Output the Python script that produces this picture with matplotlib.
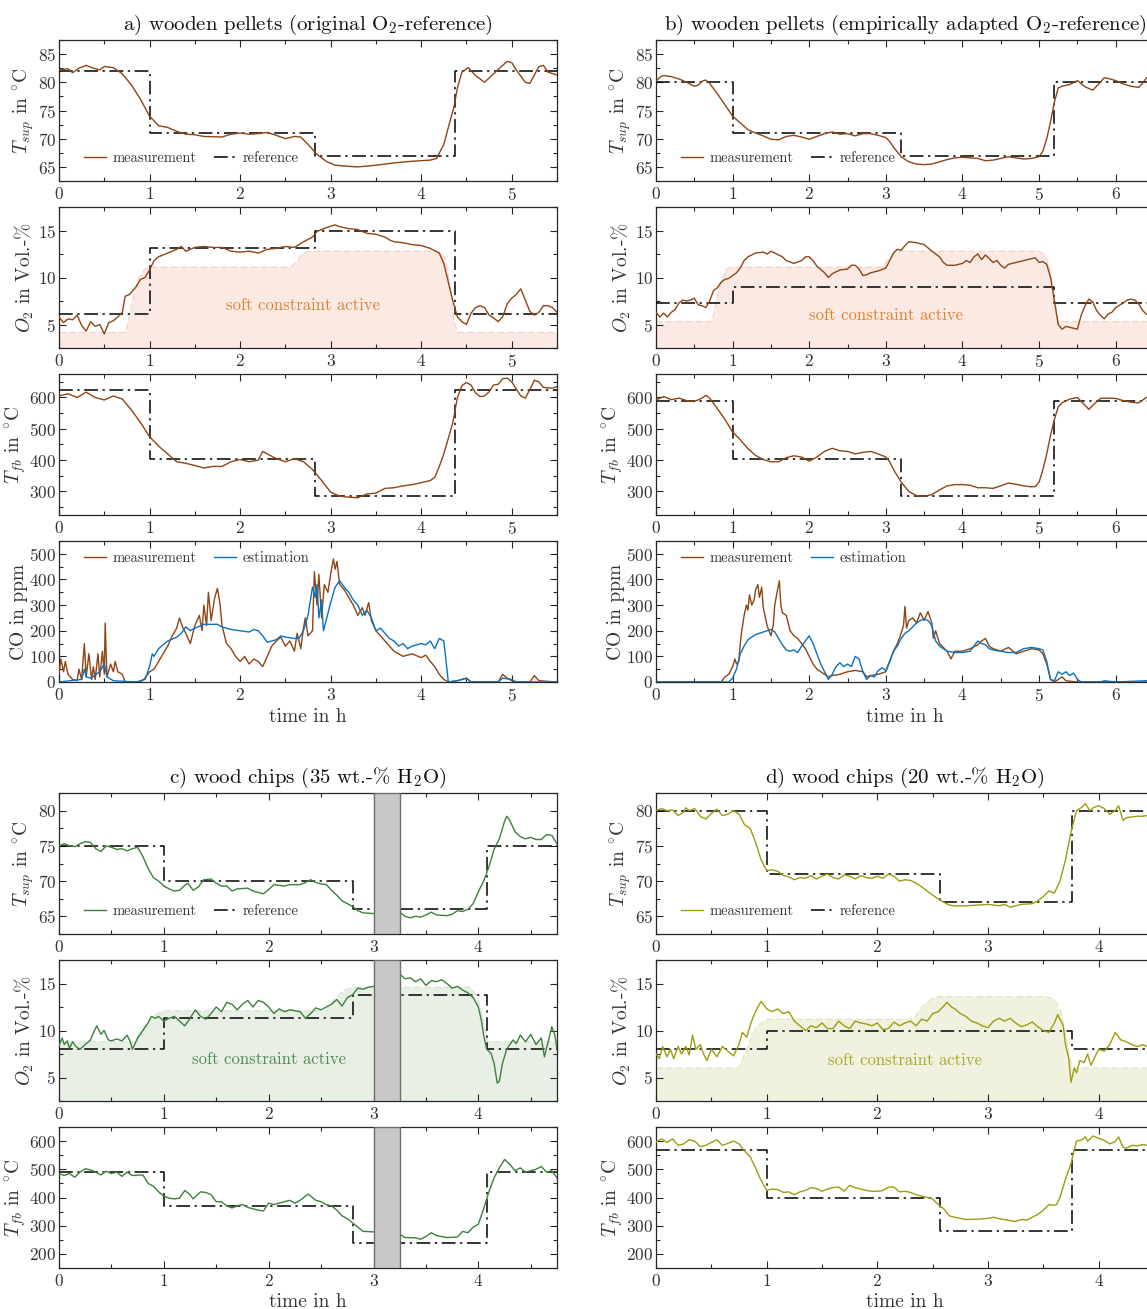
import numpy as np
import matplotlib.pyplot as plt
from matplotlib.ticker import MultipleLocator

plt.rcParams['font.family'] = ['cmr10', 'DejaVu Serif']
plt.rcParams['mathtext.fontset'] = 'cm'
plt.rcParams['axes.formatter.use_mathtext'] = True

# ----------------------------- data -----------------------------
# reference step profiles: switching times and levels
a_edges = [0, 1.0, 2.83, 4.37, 5.5]
a_ref_tsup = [82, 71, 67, 82]
a_ref_o2 = [6.1, 13.1, 14.9, 6.1]
a_ref_tfb = [623, 403, 287, 623]

b_edges = [0, 1.0, 3.2, 5.2, 6.5]
b_ref_tsup = [80, 71, 67, 80]
b_ref_o2 = [7.3, 9.0, 9.0, 7.3]
b_ref_tfb = [590, 403, 287, 590]

c_edges = [0, 1.0, 2.8, 4.08, 4.75]
c_ref_tsup = [75, 70, 66, 75]
c_ref_o2 = [8.0, 11.3, 13.8, 8.0]
c_ref_tfb = [490, 370, 240, 490]

d_edges = [0, 1.0, 2.57, 3.76, 4.5]
d_ref_tsup = [80, 71, 67, 80]
d_ref_o2 = [8.0, 10.0, 10.0, 8.0]
d_ref_tfb = [570, 400, 282, 570]

# soft constraint (upper edge of shaded area)
a_soft = [(0, 4.15), (0.74, 4.15), (0.8, 7.0), (0.87, 9.8), (0.95, 10.9), (1.02, 11.1), (2.56, 11.1),
          (2.62, 11.6), (2.68, 12.5), (2.76, 12.8), (4.2, 12.8), (4.27, 12.0), (4.32, 9.0), (4.36, 5.5),
          (4.4, 4.15), (5.5, 4.15)]
b_soft = [(0, 5.3), (0.73, 5.3), (0.78, 7.2), (0.85, 9.6), (0.92, 10.9), (1.0, 11.1), (2.95, 11.1),
          (3.02, 11.8), (3.1, 12.6), (3.2, 12.8), (5.0, 12.8), (5.08, 12.4), (5.14, 11.0), (5.2, 8.0),
          (5.25, 5.3), (6.5, 5.3)]
c_soft = [(0, 8.8), (0.72, 8.8), (0.8, 10.3), (0.9, 11.6), (1.0, 12.1), (2.55, 12.1), (2.62, 13.2),
          (2.72, 14.3), (2.82, 14.6), (3.92, 14.6), (3.98, 13.8), (4.04, 11.5), (4.09, 8.8), (4.75, 8.8)]
d_soft = [(0, 6.0), (0.75, 6.0), (0.82, 8.0), (0.9, 10.3), (1.0, 11.2), (2.33, 11.2), (2.4, 12.5),
          (2.48, 13.3), (2.56, 13.6), (3.52, 13.6), (3.6, 13.3), (3.66, 12.0), (3.71, 9.0),
          (3.76, 6.0), (4.5, 6.0)]

# measurements
a_tsup = [(0, 82.2), (0.1, 82.4), (0.15, 81.7), (0.22, 82.5), (0.3, 83.0), (0.38, 82.5), (0.45, 82.2),
          (0.5, 82.8), (0.6, 82.6), (0.7, 81.5), (0.8, 79.5), (0.9, 77.0), (1.0, 74.0), (1.1, 72.3),
          (1.2, 72.0), (1.3, 71.3), (1.4, 70.8), (1.5, 70.7), (1.6, 70.4), (1.8, 70.3), (1.9, 70.8),
          (2.0, 71.0), (2.1, 70.8), (2.2, 70.9), (2.3, 71.1), (2.4, 70.6), (2.5, 70.0), (2.6, 70.4),
          (2.67, 70.3), (2.75, 69.0), (2.85, 67.2), (2.95, 66.0), (3.05, 65.3), (3.2, 65.1), (3.3, 65.0),
          (3.5, 65.3), (3.7, 65.7), (3.9, 66.0), (4.1, 66.2), (4.17, 66.5), (4.25, 69.0), (4.3, 72.0),
          (4.36, 75.5), (4.4, 79.0), (4.45, 81.8), (4.52, 82.6), (4.6, 81.2), (4.7, 80.0), (4.8, 81.5),
          (4.9, 83.0), (4.95, 83.7), (5.0, 83.5), (5.05, 82.2), (5.15, 80.0), (5.2, 79.8), (5.3, 82.8),
          (5.35, 83.0), (5.4, 81.8), (5.5, 81.3)]
a_o2 = [(0, 5.8), (0.05, 5.2), (0.1, 5.6), (0.15, 5.5), (0.2, 6.0), (0.25, 4.9), (0.3, 4.3), (0.35, 5.3),
        (0.4, 4.8), (0.45, 5.0), (0.5, 4.0), (0.55, 5.2), (0.6, 5.4), (0.65, 5.8), (0.7, 6.3), (0.73, 8.0),
        (0.78, 8.2), (0.85, 9.0), (0.9, 9.8), (0.95, 10.0), (1.0, 10.8), (1.05, 11.8), (1.1, 12.2),
        (1.2, 12.6), (1.3, 13.0), (1.35, 13.3), (1.4, 12.8), (1.5, 13.2), (1.6, 13.3), (1.7, 13.2),
        (1.8, 13.2), (1.9, 12.8), (2.0, 12.7), (2.1, 12.8), (2.2, 12.6), (2.3, 13.0), (2.4, 13.1),
        (2.5, 13.3), (2.6, 13.2), (2.7, 13.8), (2.8, 14.3), (2.85, 14.9), (2.95, 15.3), (3.05, 15.6),
        (3.1, 15.4), (3.2, 15.2), (3.3, 15.1), (3.4, 14.7), (3.5, 14.6), (3.6, 14.3), (3.65, 14.0),
        (3.7, 13.8), (3.8, 13.7), (3.9, 13.5), (4.0, 13.4), (4.1, 13.1), (4.2, 12.6), (4.25, 11.5),
        (4.3, 9.5), (4.35, 7.5), (4.4, 5.8), (4.45, 5.3), (4.5, 5.0), (4.55, 6.2), (4.6, 6.8), (4.65, 7.0),
        (4.7, 6.8), (4.75, 6.0), (4.8, 5.7), (4.85, 5.3), (4.9, 5.8), (4.95, 7.2), (5.0, 7.8), (5.05, 8.2),
        (5.1, 8.8), (5.15, 7.6), (5.2, 6.4), (5.25, 6.0), (5.3, 6.3), (5.35, 7.0), (5.4, 7.0), (5.45, 6.8),
        (5.5, 6.3)]
a_tfb = [(0, 605), (0.1, 612), (0.2, 600), (0.3, 617), (0.4, 600), (0.5, 592), (0.6, 605), (0.7, 595),
         (0.8, 560), (0.9, 520), (1.0, 475), (1.1, 445), (1.2, 420), (1.3, 395), (1.4, 390), (1.5, 383),
         (1.6, 375), (1.7, 380), (1.8, 380), (1.9, 395), (2.0, 402), (2.1, 395), (2.2, 400), (2.25, 428),
         (2.3, 420), (2.4, 405), (2.5, 395), (2.6, 405), (2.7, 395), (2.8, 370), (2.9, 335), (3.0, 298),
         (3.1, 285), (3.2, 282), (3.3, 280), (3.4, 292), (3.5, 295), (3.6, 310), (3.7, 312), (3.8, 318),
         (3.9, 322), (4.0, 328), (4.1, 335), (4.15, 345), (4.2, 380), (4.25, 420), (4.3, 470), (4.35, 520),
         (4.4, 600), (4.45, 638), (4.5, 648), (4.55, 640), (4.6, 615), (4.65, 603), (4.7, 605), (4.75, 618),
         (4.8, 640), (4.85, 642), (4.9, 660), (4.95, 662), (5.0, 650), (5.1, 605), (5.15, 598), (5.2, 625),
         (5.25, 655), (5.3, 650), (5.35, 632), (5.45, 630), (5.5, 635)]
a_co = [(0, 30), (0.02, 90), (0.05, 40), (0.07, 80), (0.1, 30), (0.15, 10), (0.2, 5), (0.22, 50), (0.25, 10),
        (0.28, 150), (0.3, 20), (0.33, 110), (0.36, 10), (0.38, 60), (0.4, 10), (0.43, 110), (0.45, 20),
        (0.48, 120), (0.5, 30), (0.51, 230), (0.53, 20), (0.57, 70), (0.6, 40), (0.62, 80), (0.65, 40),
        (0.7, 30), (0.73, 0), (0.9, 0), (0.95, 15), (1.0, 40), (1.05, 50), (1.1, 80), (1.15, 110),
        (1.2, 140), (1.25, 180), (1.3, 210), (1.33, 250), (1.37, 210), (1.4, 190), (1.45, 150), (1.5, 220),
        (1.55, 260), (1.58, 200), (1.6, 300), (1.63, 220), (1.65, 350), (1.68, 240), (1.72, 330),
        (1.75, 365), (1.78, 300), (1.8, 220), (1.85, 150), (1.9, 130), (1.95, 100), (2.0, 80), (2.05, 100),
        (2.1, 70), (2.15, 90), (2.2, 80), (2.25, 60), (2.3, 100), (2.35, 140), (2.4, 160), (2.45, 175),
        (2.5, 140), (2.55, 160), (2.6, 120), (2.63, 190), (2.67, 130), (2.7, 210), (2.72, 250), (2.75, 180),
        (2.8, 200), (2.82, 430), (2.85, 300), (2.87, 420), (2.9, 250), (2.93, 380), (2.97, 350), (3.0, 420),
        (3.03, 480), (3.05, 440), (3.07, 470), (3.1, 380), (3.15, 360), (3.2, 330), (3.25, 300), (3.3, 260),
        (3.35, 290), (3.38, 260), (3.42, 310), (3.45, 240), (3.5, 200), (3.55, 180), (3.6, 160), (3.65, 140),
        (3.7, 120), (3.8, 100), (3.9, 110), (4.0, 95), (4.05, 105), (4.1, 80), (4.15, 60), (4.2, 30),
        (4.25, 10), (4.3, 0), (4.4, 5), (4.5, 15), (4.55, 0), (4.85, 0), (4.9, 30), (4.95, 15), (5.0, 5),
        (5.05, 0), (5.2, 0), (5.25, 25), (5.3, 5), (5.5, 0)]
a_co_est = [(0, 0), (0.25, 10), (0.28, 50), (0.3, 20), (0.35, 15), (0.45, 40), (0.5, 70), (0.53, 20),
            (0.6, 5), (0.85, 0), (0.95, 10), (1.0, 60), (1.03, 110), (1.05, 100), (1.1, 130), (1.2, 160),
            (1.3, 175), (1.35, 190), (1.4, 215), (1.45, 200), (1.5, 210), (1.6, 225), (1.75, 225),
            (1.8, 215), (1.9, 205), (2.0, 200), (2.1, 195), (2.15, 205), (2.2, 200), (2.25, 180), (2.3, 155),
            (2.4, 165), (2.45, 180), (2.5, 175), (2.6, 170), (2.65, 170), (2.7, 200), (2.75, 260),
            (2.8, 370), (2.83, 330), (2.85, 380), (2.87, 250), (2.9, 320), (2.92, 200), (2.95, 240),
            (3.0, 310), (3.05, 370), (3.1, 395), (3.15, 370), (3.2, 350), (3.25, 320), (3.3, 300),
            (3.35, 260), (3.4, 280), (3.45, 250), (3.5, 200), (3.55, 210), (3.6, 190), (3.65, 170),
            (3.7, 160), (3.75, 140), (3.8, 150), (3.85, 130), (3.9, 140), (4.0, 150), (4.05, 145),
            (4.1, 160), (4.15, 130), (4.2, 170), (4.25, 160), (4.3, 0), (4.4, 5), (4.5, 15), (4.55, 0),
            (4.85, 0), (4.9, 15), (5.0, 10), (5.05, 0), (5.5, 0)]

b_tsup = [(0, 80.2), (0.05, 80.9), (0.1, 81.2), (0.2, 81.0), (0.3, 80.6), (0.4, 80.0), (0.5, 79.3),
          (0.55, 79.5), (0.6, 80.2), (0.65, 80.4), (0.7, 79.8), (0.8, 78.0), (0.9, 76.0), (1.0, 74.0),
          (1.1, 72.8), (1.2, 71.6), (1.3, 71.0), (1.4, 70.5), (1.5, 69.9), (1.6, 69.8), (1.7, 70.4),
          (1.8, 70.6), (1.9, 70.3), (2.0, 69.9), (2.1, 70.4), (2.2, 70.9), (2.3, 71.2), (2.4, 70.8),
          (2.5, 70.9), (2.6, 70.5), (2.7, 70.9), (2.8, 70.9), (2.9, 70.6), (3.0, 70.2), (3.05, 69.5),
          (3.1, 68.5), (3.2, 66.8), (3.3, 65.9), (3.4, 65.5), (3.5, 65.4), (3.6, 65.5), (3.7, 65.9),
          (3.8, 66.3), (3.9, 66.6), (4.0, 66.7), (4.1, 66.6), (4.2, 66.5), (4.3, 66.1), (4.4, 66.2),
          (4.5, 66.5), (4.6, 66.8), (4.7, 66.6), (4.8, 66.4), (4.9, 66.5), (5.0, 66.8), (5.05, 67.8),
          (5.1, 70.0), (5.15, 73.0), (5.2, 76.5), (5.25, 79.0), (5.3, 79.3), (5.4, 79.6), (5.5, 80.3),
          (5.6, 79.2), (5.7, 78.6), (5.8, 80.0), (5.85, 80.8), (5.9, 80.7), (6.0, 80.3), (6.1, 79.7),
          (6.2, 79.3), (6.3, 79.1), (6.35, 79.8), (6.4, 80.8), (6.5, 81.0)]
b_o2 = [(0, 6.3), (0.05, 5.8), (0.1, 6.2), (0.15, 5.8), (0.2, 6.3), (0.25, 6.6), (0.3, 7.3), (0.35, 7.6),
        (0.4, 7.5), (0.45, 7.6), (0.5, 7.8), (0.55, 7.1), (0.6, 7.0), (0.65, 6.8), (0.7, 7.5), (0.75, 8.6),
        (0.8, 8.9), (0.85, 9.5), (0.9, 9.8), (0.95, 9.9), (1.0, 10.2), (1.05, 10.5), (1.1, 11.0),
        (1.15, 11.8), (1.2, 12.2), (1.3, 12.6), (1.4, 12.7), (1.45, 12.5), (1.5, 12.8), (1.6, 12.4),
        (1.65, 12.2), (1.7, 11.8), (1.8, 11.5), (1.9, 11.8), (1.95, 12.2), (2.0, 12.2), (2.05, 11.8),
        (2.1, 11.2), (2.2, 10.5), (2.25, 10.0), (2.3, 10.4), (2.4, 10.8), (2.5, 10.9), (2.55, 11.3),
        (2.6, 11.3), (2.65, 10.9), (2.7, 10.2), (2.75, 10.3), (2.8, 10.5), (2.9, 10.7), (3.0, 11.0),
        (3.05, 11.8), (3.1, 12.6), (3.15, 13.0), (3.2, 12.9), (3.25, 13.4), (3.3, 13.8), (3.4, 13.7),
        (3.5, 13.5), (3.6, 12.8), (3.7, 12.2), (3.75, 11.6), (3.8, 11.3), (3.9, 11.3), (4.0, 11.5),
        (4.05, 11.8), (4.1, 11.6), (4.15, 12.2), (4.2, 12.5), (4.25, 11.9), (4.3, 12.4), (4.35, 12.0),
        (4.4, 11.6), (4.45, 11.8), (4.5, 11.3), (4.55, 11.0), (4.6, 11.4), (4.7, 11.6), (4.8, 11.8),
        (4.9, 12.0), (4.95, 12.1), (5.0, 11.6), (5.05, 11.7), (5.1, 11.4), (5.15, 10.0), (5.2, 7.5),
        (5.25, 5.0), (5.3, 4.5), (5.35, 4.8), (5.4, 4.7), (5.5, 4.5), (5.55, 6.0), (5.6, 7.0), (5.65, 7.7),
        (5.7, 7.4), (5.75, 6.5), (5.8, 6.0), (5.85, 5.6), (5.9, 6.1), (5.95, 6.3), (6.0, 6.8), (6.1, 7.3),
        (6.15, 7.6), (6.2, 7.7), (6.25, 7.6), (6.3, 7.2), (6.35, 6.5), (6.4, 6.1), (6.5, 6.0)]
b_tfb = [(0, 592), (0.1, 603), (0.2, 593), (0.3, 598), (0.4, 590), (0.5, 587), (0.6, 598), (0.65, 607),
         (0.7, 598), (0.8, 565), (0.9, 530), (1.0, 490), (1.1, 465), (1.2, 437), (1.3, 415), (1.4, 402),
         (1.5, 395), (1.6, 395), (1.7, 408), (1.8, 414), (1.9, 410), (2.0, 397), (2.1, 410), (2.2, 428),
         (2.3, 438), (2.4, 430), (2.5, 428), (2.6, 420), (2.7, 425), (2.8, 428), (2.9, 420), (3.0, 410),
         (3.05, 395), (3.1, 370), (3.2, 330), (3.3, 300), (3.4, 287), (3.5, 285), (3.6, 290), (3.7, 305),
         (3.8, 318), (3.9, 322), (4.0, 322), (4.1, 320), (4.2, 312), (4.3, 312), (4.4, 310), (4.5, 318),
         (4.6, 327), (4.7, 323), (4.8, 318), (4.9, 315), (4.95, 316), (5.0, 330), (5.05, 370), (5.1, 420),
         (5.15, 480), (5.2, 530), (5.25, 570), (5.3, 583), (5.4, 595), (5.5, 600), (5.6, 575), (5.65, 562),
         (5.7, 575), (5.8, 597), (5.9, 598), (6.0, 597), (6.1, 590), (6.2, 585), (6.3, 583), (6.4, 600),
         (6.5, 605)]
b_co = [(0, 0), (0.85, 0), (0.9, 20), (0.95, 30), (1.0, 60), (1.03, 90), (1.05, 70), (1.08, 80), (1.1, 150),
        (1.12, 200), (1.15, 260), (1.18, 300), (1.2, 280), (1.22, 340), (1.25, 300), (1.28, 320),
        (1.3, 360), (1.33, 380), (1.35, 330), (1.38, 370), (1.4, 290), (1.45, 220), (1.5, 180), (1.53, 220),
        (1.55, 300), (1.58, 350), (1.61, 395), (1.63, 300), (1.65, 270), (1.7, 260), (1.75, 200),
        (1.8, 180), (1.85, 170), (1.9, 150), (1.95, 130), (2.0, 100), (2.05, 70), (2.1, 50), (2.2, 30),
        (2.25, 20), (2.3, 25), (2.4, 30), (2.5, 40), (2.6, 45), (2.7, 40), (2.75, 20), (2.8, 25), (2.9, 30),
        (3.0, 40), (3.05, 80), (3.1, 120), (3.15, 150), (3.2, 190), (3.23, 220), (3.25, 295), (3.27, 210),
        (3.3, 240), (3.35, 250), (3.4, 230), (3.45, 270), (3.5, 240), (3.55, 275), (3.6, 230), (3.62, 170),
        (3.65, 200), (3.7, 150), (3.8, 120), (3.85, 90), (3.9, 120), (4.0, 120), (4.1, 130), (4.2, 145),
        (4.25, 160), (4.3, 170), (4.35, 140), (4.4, 130), (4.5, 120), (4.6, 135), (4.7, 110), (4.8, 120),
        (4.9, 130), (5.0, 125), (5.05, 110), (5.1, 70), (5.15, 10), (5.2, 0), (5.3, 20), (5.35, 5),
        (5.5, 0), (6.5, 0)]
b_co_est = [(0, 0), (0.95, 0), (1.0, 15), (1.05, 50), (1.1, 110), (1.15, 140), (1.2, 165), (1.3, 185),
            (1.4, 195), (1.5, 205), (1.55, 195), (1.6, 170), (1.65, 145), (1.7, 125), (1.75, 120),
            (1.8, 125), (1.85, 115), (1.9, 140), (1.95, 160), (2.0, 180), (2.05, 150), (2.1, 110),
            (2.15, 70), (2.2, 40), (2.25, 10), (2.3, 30), (2.35, 60), (2.4, 75), (2.45, 60), (2.5, 70),
            (2.55, 60), (2.6, 100), (2.65, 90), (2.7, 40), (2.75, 10), (2.8, 25), (2.85, 20), (2.9, 45),
            (2.95, 55), (3.0, 45), (3.05, 80), (3.1, 120), (3.15, 140), (3.2, 170), (3.25, 190), (3.3, 200),
            (3.35, 215), (3.4, 230), (3.45, 240), (3.5, 245), (3.55, 240), (3.6, 220), (3.65, 160),
            (3.7, 140), (3.8, 120), (3.9, 115), (4.0, 115), (4.1, 120), (4.15, 140), (4.2, 160),
            (4.25, 150), (4.3, 145), (4.35, 130), (4.4, 125), (4.5, 120), (4.6, 115), (4.7, 115),
            (4.8, 130), (4.9, 135), (5.0, 130), (5.05, 125), (5.1, 80), (5.15, 10), (5.2, 5), (5.25, 40),
            (5.3, 30), (5.35, 40), (5.4, 25), (5.45, 35), (5.5, 10), (5.55, 0), (5.8, 0), (5.85, 5),
            (6.0, 0), (6.4, 5), (6.5, 0)]

c_tsup = [(0, 75.0), (0.05, 75.3), (0.1, 75.0), (0.15, 74.9), (0.2, 75.3), (0.25, 75.6), (0.3, 75.5),
          (0.35, 74.6), (0.4, 74.2), (0.45, 75.0), (0.5, 74.8), (0.55, 74.5), (0.6, 74.6), (0.65, 74.3),
          (0.7, 74.6), (0.75, 74.8), (0.8, 73.5), (0.85, 71.8), (0.9, 70.5), (0.95, 70.0), (1.0, 69.3),
          (1.05, 68.9), (1.1, 68.6), (1.15, 68.7), (1.2, 69.4), (1.23, 69.7), (1.28, 68.7), (1.33, 69.2),
          (1.38, 70.2), (1.45, 70.3), (1.5, 69.7), (1.55, 69.3), (1.6, 69.3), (1.65, 68.6), (1.7, 68.9),
          (1.8, 69.0), (1.85, 68.6), (1.9, 68.4), (1.95, 68.2), (2.0, 68.8), (2.05, 69.5), (2.1, 69.4),
          (2.15, 69.3), (2.2, 69.5), (2.3, 69.5), (2.35, 69.8), (2.4, 70.2), (2.45, 69.8), (2.5, 69.6),
          (2.55, 69.5), (2.6, 68.7), (2.65, 68.0), (2.7, 67.2), (2.75, 66.8), (2.8, 66.4), (2.85, 65.8),
          (2.9, 65.5), (3.0, 65.4), (3.1, np.nan), (3.25, 65.6), (3.3, 65.0), (3.35, 64.8), (3.4, 65.0),
          (3.45, 64.9), (3.5, 65.2), (3.55, 65.6), (3.6, 65.2), (3.7, 65.1), (3.75, 65.3), (3.8, 65.8),
          (3.85, 65.7), (3.9, 66.0), (3.95, 66.8), (4.0, 68.5), (4.05, 70.0), (4.1, 72.0), (4.15, 74.5),
          (4.2, 76.0), (4.25, 78.5), (4.27, 79.2), (4.3, 78.6), (4.35, 77.0), (4.4, 76.3), (4.45, 76.0),
          (4.5, 76.2), (4.55, 75.9), (4.6, 75.9), (4.65, 76.6), (4.7, 76.5), (4.75, 75.3)]
c_o2 = [(0, 8.4), (0.03, 9.2), (0.05, 8.5), (0.08, 8.9), (0.1, 8.1), (0.13, 8.8), (0.16, 8.3), (0.2, 8.0),
        (0.25, 8.5), (0.3, 9.0), (0.33, 9.8), (0.36, 10.5), (0.4, 9.6), (0.43, 10.0), (0.47, 9.0),
        (0.5, 8.9), (0.55, 9.1), (0.6, 8.9), (0.65, 9.5), (0.68, 8.8), (0.7, 8.0), (0.75, 9.2), (0.8, 10.0),
        (0.85, 10.8), (0.88, 11.5), (0.92, 11.3), (0.95, 11.5), (1.0, 11.0), (1.05, 11.3), (1.1, 11.5),
        (1.15, 11.0), (1.2, 10.5), (1.25, 11.3), (1.3, 12.2), (1.35, 11.5), (1.4, 11.2), (1.45, 11.8),
        (1.5, 12.5), (1.55, 12.0), (1.6, 13.0), (1.65, 12.8), (1.7, 12.2), (1.75, 12.8), (1.8, 13.2),
        (1.85, 12.5), (1.9, 13.2), (1.95, 13.0), (2.0, 12.5), (2.05, 11.8), (2.1, 12.3), (2.15, 12.0),
        (2.2, 12.2), (2.3, 12.0), (2.35, 11.3), (2.4, 11.8), (2.45, 12.4), (2.5, 12.2), (2.55, 12.5),
        (2.6, 12.8), (2.65, 13.3), (2.7, 12.6), (2.75, 13.5), (2.8, 13.8), (2.85, 14.5), (2.9, 14.4),
        (2.95, 14.6), (3.0, 14.7), (3.1, np.nan), (3.25, 16.0), (3.3, 15.5), (3.35, 15.6), (3.4, 15.2),
        (3.45, 15.5), (3.5, 14.8), (3.55, 15.3), (3.6, 15.2), (3.65, 15.4), (3.7, 15.0), (3.75, 14.5),
        (3.8, 14.7), (3.85, 14.3), (3.9, 14.0), (3.95, 13.5), (4.0, 12.5), (4.03, 11.0), (4.05, 9.5),
        (4.08, 8.0), (4.12, 7.6), (4.15, 6.5), (4.18, 4.4), (4.2, 4.6), (4.23, 6.5), (4.27, 8.0),
        (4.3, 8.5), (4.33, 9.0), (4.36, 8.6), (4.4, 9.5), (4.45, 8.8), (4.5, 9.6), (4.55, 8.5), (4.6, 9.2),
        (4.63, 7.2), (4.67, 9.0), (4.7, 10.4), (4.73, 9.5), (4.75, 8.0)]
c_tfb = [(0, 485), (0.05, 478), (0.1, 485), (0.15, 472), (0.2, 490), (0.25, 502), (0.3, 498), (0.35, 490),
         (0.4, 480), (0.45, 493), (0.5, 485), (0.55, 490), (0.6, 475), (0.65, 490), (0.7, 478), (0.8, 480),
         (0.85, 450), (0.9, 440), (0.95, 420), (1.0, 405), (1.05, 398), (1.1, 395), (1.15, 398), (1.2, 425),
         (1.25, 410), (1.28, 395), (1.35, 420), (1.4, 418), (1.45, 410), (1.5, 385), (1.55, 385),
         (1.6, 370), (1.65, 363), (1.7, 370), (1.75, 375), (1.8, 365), (1.85, 360), (1.9, 355), (1.95, 352),
         (2.0, 380), (2.05, 375), (2.1, 380), (2.15, 385), (2.2, 390), (2.25, 380), (2.3, 390), (2.35, 405),
         (2.38, 412), (2.4, 405), (2.45, 390), (2.5, 385), (2.55, 375), (2.6, 370), (2.65, 355), (2.7, 335),
         (2.75, 325), (2.8, 310), (2.85, 295), (2.9, 280), (3.0, 278), (3.1, np.nan), (3.25, 270),
         (3.3, 258), (3.4, 257), (3.45, 252), (3.5, 262), (3.55, 275), (3.6, 265), (3.7, 258), (3.8, 260),
         (3.85, 280), (3.9, 275), (3.95, 295), (4.0, 305), (4.05, 360), (4.1, 420), (4.15, 470), (4.2, 505),
         (4.25, 535), (4.3, 518), (4.35, 495), (4.4, 505), (4.45, 490), (4.5, 495), (4.55, 500), (4.6, 510),
         (4.65, 490), (4.7, 495), (4.75, 470)]

d_tsup = [(0, 80.0), (0.05, 80.3), (0.1, 80.0), (0.15, 80.1), (0.2, 79.3), (0.25, 79.8), (0.27, 80.4),
          (0.3, 80.0), (0.35, 80.3), (0.4, 79.2), (0.45, 78.8), (0.5, 79.6), (0.55, 80.2), (0.6, 79.3),
          (0.65, 79.5), (0.7, 80.0), (0.75, 79.5), (0.8, 78.0), (0.85, 77.5), (0.9, 75.5), (0.95, 73.0),
          (1.0, 71.5), (1.05, 71.6), (1.1, 71.4), (1.15, 70.8), (1.2, 70.6), (1.25, 70.2), (1.3, 70.5),
          (1.35, 70.4), (1.4, 70.8), (1.45, 70.3), (1.5, 70.7), (1.55, 71.0), (1.6, 70.5), (1.65, 70.3),
          (1.7, 70.9), (1.75, 70.7), (1.8, 70.3), (1.85, 70.8), (1.9, 70.5), (1.95, 70.4), (2.0, 70.7),
          (2.05, 70.4), (2.1, 71.0), (2.15, 70.7), (2.2, 70.0), (2.25, 70.2), (2.3, 70.1), (2.35, 69.7),
          (2.4, 69.2), (2.45, 68.6), (2.5, 68.0), (2.55, 67.5), (2.6, 67.0), (2.65, 66.6), (2.7, 66.5),
          (2.8, 66.5), (2.9, 66.6), (3.0, 66.7), (3.1, 66.5), (3.15, 66.7), (3.2, 66.3), (3.3, 66.7),
          (3.4, 66.8), (3.45, 67.2), (3.5, 67.8), (3.55, 68.6), (3.6, 68.3), (3.65, 70.0), (3.7, 73.0),
          (3.75, 77.0), (3.8, 80.0), (3.85, 80.5), (3.88, 81.0), (3.92, 80.0), (3.95, 80.4), (4.0, 80.7),
          (4.05, 80.3), (4.1, 79.5), (4.15, 80.0), (4.18, 80.7), (4.22, 78.6), (4.25, 79.0), (4.35, 79.2),
          (4.4, 79.2), (4.5, 79.5)]
d_o2 = [(0, 7.5), (0.03, 7.0), (0.06, 8.3), (0.1, 7.2), (0.13, 8.0), (0.16, 7.0), (0.2, 8.3), (0.23, 7.5),
        (0.27, 8.3), (0.3, 7.4), (0.33, 9.5), (0.36, 8.0), (0.4, 8.5), (0.43, 7.5), (0.46, 6.8), (0.5, 8.0),
        (0.55, 7.2), (0.6, 8.3), (0.65, 7.8), (0.7, 7.3), (0.75, 8.5), (0.78, 9.8), (0.82, 9.3),
        (0.85, 10.5), (0.88, 11.5), (0.92, 12.5), (0.95, 13.1), (1.0, 12.3), (1.05, 12.0), (1.1, 12.3),
        (1.15, 11.8), (1.2, 12.0), (1.25, 11.0), (1.3, 10.5), (1.35, 10.0), (1.4, 10.5), (1.45, 10.3),
        (1.5, 10.8), (1.55, 10.2), (1.6, 10.2), (1.65, 11.0), (1.7, 10.5), (1.75, 10.2), (1.8, 11.0),
        (1.85, 10.8), (1.9, 10.7), (1.95, 10.5), (2.0, 10.8), (2.05, 10.1), (2.1, 10.2), (2.15, 10.9),
        (2.2, 10.5), (2.25, 10.8), (2.3, 11.0), (2.35, 10.5), (2.4, 11.2), (2.45, 11.0), (2.5, 11.8),
        (2.55, 12.0), (2.6, 12.6), (2.63, 13.0), (2.67, 12.5), (2.7, 12.3), (2.75, 11.8), (2.8, 11.5),
        (2.85, 11.0), (2.9, 10.8), (2.95, 10.5), (3.0, 10.3), (3.05, 11.0), (3.1, 11.3), (3.15, 11.0),
        (3.2, 11.3), (3.25, 10.8), (3.3, 10.4), (3.35, 10.6), (3.4, 10.9), (3.45, 10.4), (3.5, 10.0),
        (3.55, 9.8), (3.6, 10.8), (3.63, 11.7), (3.65, 11.2), (3.68, 10.5), (3.7, 8.5), (3.73, 7.0),
        (3.75, 4.5), (3.78, 6.0), (3.8, 5.5), (3.83, 6.8), (3.87, 6.6), (3.9, 7.5), (3.93, 6.3), (3.97, 7.3),
        (4.0, 8.0), (4.05, 7.8), (4.1, 8.5), (4.15, 9.8), (4.2, 9.0), (4.25, 8.8), (4.3, 8.5), (4.35, 8.3),
        (4.4, 8.5), (4.45, 8.2), (4.5, 8.0)]
d_tfb = [(0, 597), (0.05, 608), (0.1, 595), (0.15, 608), (0.2, 585), (0.25, 590), (0.3, 605), (0.35, 600),
         (0.4, 580), (0.45, 585), (0.5, 595), (0.55, 605), (0.6, 585), (0.65, 592), (0.7, 600), (0.75, 590),
         (0.8, 565), (0.85, 545), (0.9, 505), (0.95, 460), (1.0, 425), (1.05, 430), (1.1, 428), (1.15, 418),
         (1.2, 420), (1.25, 410), (1.3, 420), (1.35, 425), (1.4, 435), (1.45, 432), (1.5, 422), (1.55, 430),
         (1.6, 435), (1.65, 437), (1.7, 423), (1.75, 443), (1.8, 435), (1.85, 430), (1.9, 425), (1.95, 422),
         (2.0, 422), (2.05, 425), (2.1, 437), (2.15, 437), (2.2, 420), (2.25, 422), (2.3, 418), (2.35, 410),
         (2.4, 405), (2.45, 400), (2.5, 395), (2.55, 375), (2.6, 360), (2.65, 335), (2.7, 330), (2.8, 322),
         (2.9, 323), (3.0, 326), (3.05, 330), (3.1, 325), (3.2, 318), (3.25, 315), (3.3, 322), (3.35, 320),
         (3.4, 330), (3.45, 340), (3.5, 355), (3.55, 375), (3.6, 372), (3.62, 375), (3.65, 400), (3.7, 465),
         (3.75, 520), (3.78, 570), (3.8, 600), (3.85, 605), (3.88, 615), (3.9, 600), (3.95, 618),
         (4.0, 610), (4.05, 603), (4.1, 590), (4.15, 598), (4.18, 615), (4.22, 578), (4.25, 575),
         (4.3, 585), (4.35, 583), (4.4, 588), (4.45, 585), (4.5, 590)]

# ----------------------------- styling -----------------------------
BROWN = '#8f4516'
BLUE = '#0a72c0'
GREEN = '#3f7f3f'
OLIVE = '#9e9c10'
GRAY_TXT = '#333333'

W, H = 1147, 1309
AX_W, AX_H = 498, 141
LEFT_X, RIGHT_X = 59, 656
TOP_ROWS = [40, 207, 374, 541]
BOT_ROWS = [793, 960, 1127]

fig = plt.figure(figsize=(W / 100, H / 100), dpi=100)


def add_ax(x0, y0):
    return fig.add_axes([x0 / W, 1 - (y0 + AX_H) / H, AX_W / W, AX_H / H])


def style(ax, xmax, ylim, ymaj, ymin):
    ax.set_xlim(0, xmax)
    ax.set_ylim(*ylim)
    ax.xaxis.set_major_locator(MultipleLocator(1))
    ax.xaxis.set_minor_locator(MultipleLocator(0.5))
    ax.yaxis.set_major_locator(MultipleLocator(ymaj))
    ax.yaxis.set_minor_locator(MultipleLocator(ymin))
    ax.tick_params(which='both', direction='in', top=True, right=True, colors='#262626',
                   labelcolor=GRAY_TXT, labelsize=12.5, width=0.8)
    ax.tick_params(axis='y', pad=2)
    ax.tick_params(which='major', length=5)
    ax.tick_params(which='minor', length=3)
    for s in ax.spines.values():
        s.set_color('#262626')
        s.set_linewidth(0.9)


def xy(pairs):
    arr = np.array(pairs, dtype=float)
    return arr[:, 0], arr[:, 1]


def ref_line(ax, edges, levels, label=None):
    ax.step(edges, levels + [levels[-1]], where='post', color='black', lw=1.1,
            ls=(0, (9, 3, 1.5, 3)), label=label, zorder=3)


def soft_area(ax, pairs, fc, ec):
    t, v = xy(pairs)
    ax.fill_between(t, 0, v, facecolor=fc, edgecolor='none', zorder=1)
    ax.plot(t, v, color=ec, lw=0.8, ls=(0, (6, 3)), zorder=1.5)


def leg(ax, loc, anchor):
    ax.legend(loc=loc, bbox_to_anchor=anchor, ncol=2, frameon=False, fontsize=10.5,
              handlelength=1.5, columnspacing=1.2, handletextpad=0.45, borderpad=0.2,
              labelcolor=GRAY_TXT)


def ylab(ax, text):
    ax.set_ylabel(text, fontsize=14, color=GRAY_TXT, labelpad=1)


def column(x0, rows, edges, xmax, col, tsup, ref_tsup, tsup_lim, o2, ref_o2, soft, soft_fc, soft_ec,
           soft_txt, txt_pos, tfb, ref_tfb, tfb_lim, title, co=None, co_est=None, band=None):
    axes = [add_ax(x0, r) for r in rows]
    ax1, ax2, ax3 = axes[:3]

    t, v = xy(tsup)
    ax1.plot(t, v, color=col, lw=1.0, label='measurement', zorder=4)
    ref_line(ax1, edges, ref_tsup, label='reference')
    style(ax1, xmax, tsup_lim, 5, 2.5)
    ylab(ax1, r'$T_{sup}$ in $^{\circ}$C')
    leg(ax1, 'lower left', (0.03, 0.04))
    ax1.set_title(title, fontsize=15, color='#111111', pad=7)

    soft_area(ax2, soft, soft_fc, soft_ec)
    ref_line(ax2, edges, ref_o2)
    t, v = xy(o2)
    ax2.plot(t, v, color=col, lw=1.0, zorder=4)
    ax2.text(txt_pos[0], txt_pos[1], 'soft constraint active', color=soft_txt, fontsize=12,
             ha='center', va='center', zorder=2)
    style(ax2, xmax, (2.5, 17.5), 5, 2.5)
    ylab(ax2, r'$O_2$ in Vol.-%')

    t, v = xy(tfb)
    ax3.plot(t, v, color=col, lw=1.0, zorder=4)
    ref_line(ax3, edges, ref_tfb)
    style(ax3, xmax, tfb_lim, 100, 50)
    ylab(ax3, r'$T_{fb}$ in $^{\circ}$C')

    last = ax3
    if co is not None:
        ax4 = axes[3]
        t, v = xy(co)
        ax4.plot(t, v, color=col, lw=1.0, label='measurement', zorder=3)
        t, v = xy(co_est)
        ax4.plot(t, v, color=BLUE, lw=1.0, label='estimation', zorder=4)
        style(ax4, xmax, (0, 550), 100, 50)
        ylab(ax4, 'CO in ppm')
        leg(ax4, 'upper left', (0.03, 1.0))
        last = ax4

    if band is not None:
        for ax in axes[:3]:
            ax.axvspan(band[0], band[1], facecolor='#c8c8c8', edgecolor='#6e6e6e', lw=1.0, zorder=6)

    last.set_xlabel('time in h', fontsize=14, color=GRAY_TXT, labelpad=3)


column(LEFT_X, TOP_ROWS, a_edges, 5.5, BROWN, a_tsup, a_ref_tsup, (62.5, 87.5), a_o2, a_ref_o2,
       a_soft, '#fbeae4', '#f6cfc0', '#e2802e', (2.7, 7.0), a_tfb, a_ref_tfb, (225, 675),
       r'a) wooden pellets (original O$_2$-reference)', co=a_co, co_est=a_co_est)
column(RIGHT_X, TOP_ROWS, b_edges, 6.5, BROWN, b_tsup, b_ref_tsup, (62.5, 87.5), b_o2, b_ref_o2,
       b_soft, '#fbeae4', '#f6cfc0', '#e2802e', (3.0, 6.0), b_tfb, b_ref_tfb, (225, 675),
       r'b) wooden pellets (empirically adapted O$_2$-reference)', co=b_co, co_est=b_co_est)
column(LEFT_X, BOT_ROWS, c_edges, 4.75, GREEN, c_tsup, c_ref_tsup, (62.5, 82.5), c_o2, c_ref_o2,
       c_soft, '#e8f0e6', '#d3e2cf', '#4c8c4c', (2.0, 6.9), c_tfb, c_ref_tfb, (150, 650),
       r'c) wood chips (35 wt.-% H$_2$O)', band=(3.0, 3.25))
column(RIGHT_X, BOT_ROWS, d_edges, 4.5, OLIVE, d_tsup, d_ref_tsup, (62.5, 82.5), d_o2, d_ref_o2,
       d_soft, '#f1f1df', '#e2e2bf', '#a8a62c', (2.25, 6.8), d_tfb, d_ref_tfb, (150, 650),
       r'd) wood chips (20 wt.-% H$_2$O)')

fig.savefig('out.png', dpi=100)
